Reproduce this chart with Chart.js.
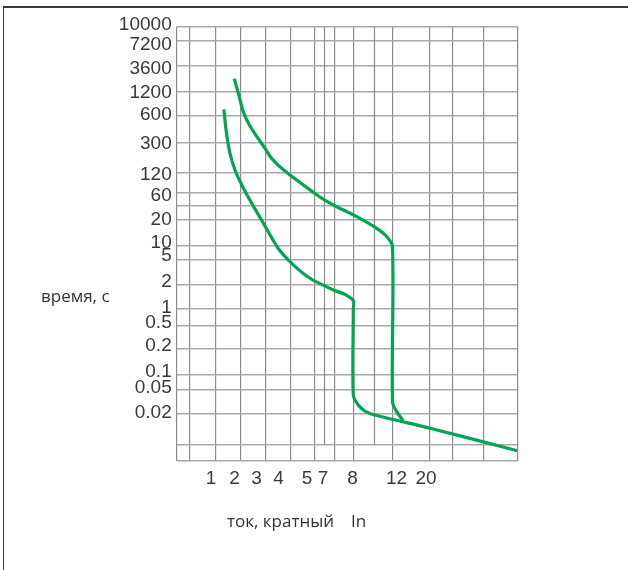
<!DOCTYPE html>
<html>
<head>
<meta charset="utf-8">
<script src="https://cdn.jsdelivr.net/npm/chart.js@4.4.0/dist/chart.umd.min.js"></script>
<style>
html, body { margin: 0; padding: 0; background: #fff; }
#wrap { position: relative; width: 628px; height: 570px; overflow: hidden; }
#frame { position: absolute; left: 3px; top: 6px; right: -10px; bottom: -10px;
         border-top: 2px solid #3a3a3a; border-left: 1.5px solid #3a3a3a; }
#curveChart { position: absolute; left: 0; top: 0; }
.axisTitle { position: absolute; font-family: "Open Sans", sans-serif; font-size: 17px;
             line-height: 20px; color: #333; white-space: pre; }
</style>
</head>
<body>
<div id="wrap">
  <div id="frame"></div>
  <canvas id="curveChart" width="628" height="570"></canvas>
  <div class="axisTitle" style="left:41px; top:286px;">время, с</div>
  <div class="axisTitle" style="left:227px; top:511px;">ток, кратный</div>
  <div class="axisTitle" style="left:351px; top:511px;">In</div>
</div>

<script>
// Time axis (seconds): one value per horizontal grid line, top to bottom
const timeTicks = [10000, 7200, 3600, 1200, 600, 300, 120, 60, 40, 20, 10, 5, 2, 1, 0.5, 0.2, 0.1, 0.05, 0.02, 0.01, 0.005];
const timeLabels = ['10000', '7200', '3600', '1200', '600', '300', '120', '60', '20', '10', '5', '2', '1', '0.5', '0.2', '0.1', '0.05', '0.02'];

// Current axis (multiples of In)
const currentTicks = [1, 2, 3, 4, 5, 7, 8, 12, 20];
const currentLabels = ['1', '2', '3', '4', '5', '7', '8', '12', '20'];

// Upper curve (tripping)
const upperCurrent = [1.96, 2.17, 2.35, 2.64, 3.09, 3.37, 3.67, 4.2, 5.78, 7.07, 7.42, 8.29, 10.19, 11.3, 12, 12, 12.72, 13.9];
const upperTime = [2100, 1040, 670, 470, 330, 250, 185, 126, 58.5, 46, 37.4, 23.4, 15.9, 12.7, 9.4, 0.0314, 0.0216, 0.0172];

// Lower curve (non-tripping) with the common instantaneous tail
const lowerCurrent = [1.47, 1.56, 1.74, 2, 2.28, 2.76, 3.3, 3.98, 4.42, 5.19, 7.31, 7.7, 8, 8, 8, 8.42, 9.03, 10, 20.3, 100];
const lowerTime = [720, 413, 215, 130, 78.3, 42.7, 18.3, 8.8, 4.43, 2.56, 1.73, 1.52, 1.27, 0.947, 0.0404, 0.0277, 0.0221, 0.0194, 0.0145, 0.0078];

// ---- layout of the (irregular) printed grid, measured in page pixels ----
const PLOT = { left: 176.7, right: 517.3, top: 26.7, bottom: 461 };
const timeLinePx = [26.7, 40.7, 66, 91.7, 115.7, 142.3, 172.7, 192.7, 205.3, 220, 245.3, 260, 285, 308.7, 325.3, 349, 374.7, 389.3, 413.7, 445, 461];
const timeLabelPx = [24.5, 44.8, 69, 93, 114.5, 144, 175, 195.5, 220, 243, 255.5, 281.5, 308, 323, 345.5, 371.5, 387.5, 413];
const currentAnchorVal = [0.4, 1, 2, 3, 4, 5, 7, 8, 12, 20, 100];
const currentAnchorPx = [176.7, 210, 235, 256, 278.3, 308.3, 323.8, 353.3, 392.5, 429.3, 517.3];
const currentLabelPx = [211, 234.5, 256.5, 278.5, 307, 323, 352.5, 396.5, 426];
const gridLinePx = [176.7, 190, 215.3, 240.5, 265.5, 290.2, 314.3, 334.3, 353.3, 392.5, 429.3, 452.5, 483.7, 517.3];
const shortGridLinePx = [323.8, 373.5];

const xFrac = px => (px - PLOT.left) / (PLOT.right - PLOT.left);
const yFrac = py => (PLOT.bottom - py) / (PLOT.bottom - PLOT.top);

// log interpolation between neighbouring anchors
function logInterp(v, vals, pos) {
    for (let i = 0; i < vals.length - 1; i++) {
        const a = vals[i], b = vals[i + 1];
        if ((v - a) * (v - b) <= 0) {
            const t = Math.log(v / a) / Math.log(b / a);
            return pos[i] + t * (pos[i + 1] - pos[i]);
        }
    }
    return pos[pos.length - 1];
}
const xPos = c => xFrac(logInterp(c, currentAnchorVal, currentAnchorPx));
const yPos = t => yFrac(logInterp(t, timeTicks, timeLinePx));

const toPoints = (cur, tim) => cur.map((c, i) => ({ x: xPos(c), y: yPos(tim[i]) }));

const GREEN = '#00a651';
const tickFont = { family: 'Liberation Sans', size: 19 };

// two vertical lines stop at the 0.01 s line
const shortGridLines = {
    id: 'shortGridLines',
    beforeDatasetsDraw(chart) {
        const { ctx, scales: { x, y } } = chart;
        ctx.save();
        ctx.strokeStyle = '#8c8c8c';
        ctx.lineWidth = 1.2;
        shortGridLinePx.forEach(px => {
            const xp = Math.round(x.getPixelForValue(xFrac(px))) + 0.5;
            ctx.beginPath();
            ctx.moveTo(xp, y.getPixelForValue(1));
            ctx.lineTo(xp, y.getPixelForValue(yPos(0.01)));
            ctx.stroke();
        });
        ctx.restore();
    }
};

const ctx = document.getElementById('curveChart').getContext('2d');
const curveChart = new Chart(ctx, {
    type: 'line',
    data: {
        datasets: [{
            label: 'upper',
            data: toPoints(upperCurrent, upperTime),
            borderColor: GREEN,
            borderWidth: 3.2,
            pointRadius: 0,
            tension: 0.3,
            fill: false
        }, {
            label: 'lower',
            data: toPoints(lowerCurrent, lowerTime),
            borderColor: GREEN,
            borderWidth: 3.2,
            pointRadius: 0,
            tension: 0.25,
            fill: false
        }]
    },
    options: {
        responsive: false,
        animation: false,
        layout: { padding: { left: 0, top: PLOT.top, right: 628 - PLOT.right, bottom: 0 } },
        plugins: {
            legend: { display: false },
            tooltip: { enabled: false }
        },
        scales: {
            x: {
                type: 'linear', min: 0, max: 1, position: 'bottom',
                afterBuildTicks: s => { s.ticks = gridLinePx.map(p => ({ value: xFrac(p) })); },
                afterFit: s => { s.height = 0; },
                ticks: { display: false },
                grid: { color: '#8c8c8c', lineWidth: 1.2, drawTicks: false },
                border: { display: false }
            },
            xLabels: {
                type: 'linear', min: 0, max: 1, position: 'bottom',
                afterBuildTicks: s => { s.ticks = currentLabelPx.map(p => ({ value: xFrac(p) })); },
                afterFit: s => { s.height = 570 - PLOT.bottom; },
                ticks: {
                    autoSkip: false, maxRotation: 0, padding: 6,
                    font: tickFont, color: '#3a3a3a',
                    callback: (v, i) => currentLabels[i]
                },
                grid: { display: false, drawTicks: false },
                border: { display: false }
            },
            y: {
                type: 'linear', min: 0, max: 1, position: 'left',
                afterBuildTicks: s => { s.ticks = timeLinePx.map(p => ({ value: yFrac(p) })); },
                afterFit: s => { s.width = 0; },
                ticks: { display: false },
                grid: { color: '#a8a8a8', lineWidth: 1.4, drawTicks: false },
                border: { display: false }
            },
            yLabels: {
                type: 'linear', min: 0, max: 1, position: 'left',
                afterBuildTicks: s => { s.ticks = timeLabelPx.map(p => ({ value: yFrac(p) })); },
                afterFit: s => { s.width = PLOT.left; },
                ticks: {
                    autoSkip: false, padding: 5,
                    font: tickFont, color: '#3a3a3a',
                    callback: (v, i) => timeLabels[i]
                },
                grid: { display: false, drawTicks: false },
                border: { display: false }
            }
        }
    },
    plugins: [shortGridLines]
});
</script>
</body>
</html>
